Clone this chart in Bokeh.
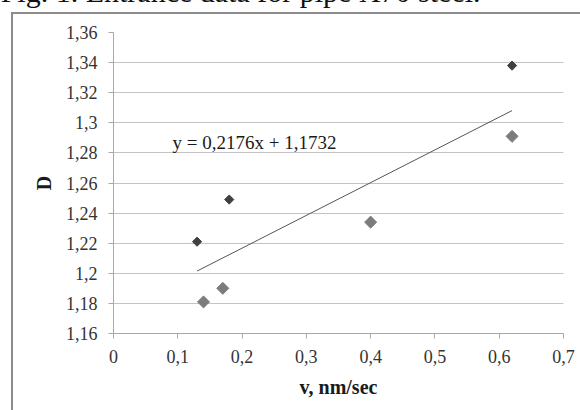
from bokeh.plotting import figure
from bokeh.models import FixedTicker, Label, LinearAxis, CustomJSTickFormatter
from bokeh.embed import file_html
from bokeh.resources import INLINE
import numpy as np

# ---- data ----
dark_v = [0.13, 0.18, 0.62]
dark_d = [1.221, 1.249, 1.338]
light_v = [0.14, 0.17, 0.40, 0.62]
light_d = [1.181, 1.190, 1.234, 1.291]
slope = 0.2176
intercept = 1.1732
trend_v = [0.13, 0.62]
equation = "y = 0,2176x + 1,1732"
caption = "Fig. 1.  Entrance data for pipe X70 steel."

x_ticks = [0, 0.1, 0.2, 0.3, 0.4, 0.5, 0.6, 0.7]
x_labels = ["0", "0,1", "0,2", "0,3", "0,4", "0,5", "0,6", "0,7"]
y_ticks = [1.16, 1.18, 1.20, 1.22, 1.24, 1.26, 1.28, 1.30, 1.32, 1.34, 1.36]
y_labels = ["1,16", "1,18", "1,2", "1,22", "1,24", "1,26", "1,28", "1,3", "1,32", "1,34", "1,36"]
x_title = "v, nm/sec"
y_title = "D"

SERIF = "Liberation Serif"
FRAME = "#8c8c8c"

p = figure(width=580, height=448, output_backend="svg", toolbar_location=None,
           x_range=(0, 0.7), y_range=(1.16, 1.36),
           min_border_left=113, min_border_right=17, min_border_top=70, min_border_bottom=77)
# the top 38 px of the canvas lie above the page edge (caption is cut, as in the scan)
p.styles = {
    "position": "absolute", "left": "0px", "top": "-38px",
    "background-image": f"linear-gradient({FRAME}, {FRAME}), linear-gradient({FRAME}, {FRAME})",
    "background-size": "2px 100%, 100% 2px",
    "background-position": "11px 50px, 11px 50px",
    "background-repeat": "no-repeat",
}
p.outline_line_color = None
p.background_fill_color = "white"
p.border_fill_color = None

# grid
p.xgrid.grid_line_color = None
p.ygrid.grid_line_color = "#c4c4c4"
p.ygrid.grid_line_width = 1

fmt_code = """
let best = 0;
for (let i = 0; i < tv.length; i++) {
  if (Math.abs(tv[i] - tick) < Math.abs(tv[best] - tick)) best = i;
}
return tl[best];
"""

# axes
for ax in (p.xaxis[0], p.yaxis[0]):
    ax.axis_line_color = "#a8a8a8"
    ax.major_tick_line_color = "#a8a8a8"
    ax.minor_tick_line_color = None
    ax.major_tick_out = 5
    ax.major_tick_in = 0
    ax.major_label_text_font = SERIF
    ax.major_label_text_font_size = "18px"
    ax.major_label_text_color = "#333333"
    ax.axis_label_text_font = SERIF
    ax.axis_label_text_font_style = "bold"
    ax.axis_label_text_font_size = "20px"
    ax.axis_label_text_color = "#1a1a1a"

p.xaxis.ticker = FixedTicker(ticks=x_ticks)
p.xaxis.formatter = CustomJSTickFormatter(args=dict(tv=x_ticks, tl=x_labels), code=fmt_code)
p.yaxis.ticker = FixedTicker(ticks=y_ticks)
p.yaxis.formatter = CustomJSTickFormatter(args=dict(tv=y_ticks, tl=y_labels), code=fmt_code)
p.xaxis.axis_label = x_title
p.yaxis.axis_label = y_title
p.xaxis.major_label_standoff = 11
p.yaxis.major_label_standoff = 11
p.xaxis.axis_label_standoff = 10
p.yaxis.axis_label_standoff = 8

# caption, drawn as the single label of an invisible axis above the plot
caption_x = 0.2030
cap_axis = LinearAxis(ticker=FixedTicker(ticks=[caption_x]),
                      formatter=CustomJSTickFormatter(args=dict(txt=caption), code="return txt;"),
                      axis_line_color=None, major_tick_line_color=None, minor_tick_line_color=None,
                      major_tick_out=0, major_tick_in=0, major_label_standoff=25,
                      major_label_text_font=SERIF, major_label_text_font_size="30px",
                      major_label_text_color="#111111",
                      major_label_text_baseline="alphabetic")
p.add_layout(cap_axis, "above")

# trend line
trend_d = [slope * v + intercept for v in trend_v]
p.line(trend_v, trend_d, line_color="#555555", line_width=1)

# markers (rotated squares = Excel diamonds)
p.scatter(light_v, light_d, marker="square", angle=np.pi / 4, size=8.5,
          fill_color="#7c7c7c", line_color="#7c7c7c")
p.scatter(dark_v, dark_d, marker="square", angle=np.pi / 4, size=6.5,
          fill_color="#404040", line_color="#404040")

# equation
p.add_layout(Label(x=0.0918, y=1.2868, text=equation, text_font=SERIF,
                   text_font_size="19px", text_color="#1a1a1a",
                   text_baseline="middle"))

open("out.html", "w").write(file_html(p, INLINE))
